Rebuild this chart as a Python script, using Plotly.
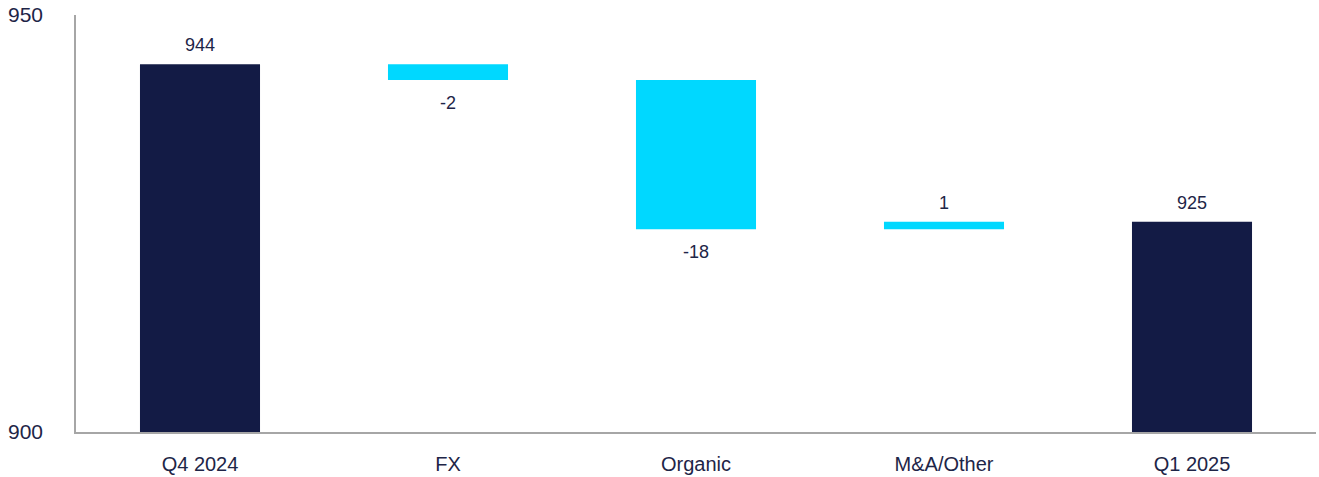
import plotly.graph_objects as go

categories = ["Q4 2024", "FX", "Organic", "M&A/Other", "Q1 2025"]
measures = ["absolute", "relative", "relative", "relative", "total"]
values = [944.1, -1.9, -17.9, 0.9, 0]
labels = ["944", "-2", "-18", "1", "925"]
y_ticks = [900, 950]

NAVY = "#131B45"
CYAN = "#00D8FF"
TEXT = "#1E2547"
AXIS = "#A6A6A6"
FONT = "Arial, Liberation Sans, sans-serif"

fig = go.Figure(go.Waterfall(
    x=categories,
    y=values,
    measure=measures,
    connector=dict(visible=False),
    increasing=dict(marker=dict(color=CYAN)),
    decreasing=dict(marker=dict(color=CYAN)),
    totals=dict(marker=dict(color=NAVY)),
    hoverinfo="skip",
))

# label positions from cumulative data
run = 0
for cat, m, v, lab in zip(categories, measures, values, labels):
    if m == "absolute":
        start, end = 0, v
        run = v
    elif m == "relative":
        start, end = run, run + v
        run = end
    else:
        start, end = 0, run
    if end >= start:
        y, shift = max(start, end), 19
    else:
        y, shift = min(start, end), -23
    fig.add_annotation(x=cat, y=y, text=lab, showarrow=False, yshift=shift,
                       yanchor="middle", font=dict(size=18, color=TEXT, family=FONT))

fig.update_layout(
    width=1319, height=477,
    margin=dict(l=76, r=3, t=14.5, b=44.5),
    paper_bgcolor="white", plot_bgcolor="white",
    waterfallgap=0.516,
    showlegend=False,
    font=dict(family=FONT, color=TEXT),
    xaxis=dict(showline=True, linecolor=AXIS, linewidth=1.5, showgrid=False,
               ticks="", tickfont=dict(size=20, color=TEXT), ticklabelstandoff=13),
    yaxis=dict(range=[900, 950], tickvals=y_ticks, showline=True, linecolor=AXIS,
               linewidth=1.5, showgrid=False, zeroline=False, ticks="",
               tickfont=dict(size=21, color=TEXT), ticklabelstandoff=27),
)

fig.write_html("out.html")
